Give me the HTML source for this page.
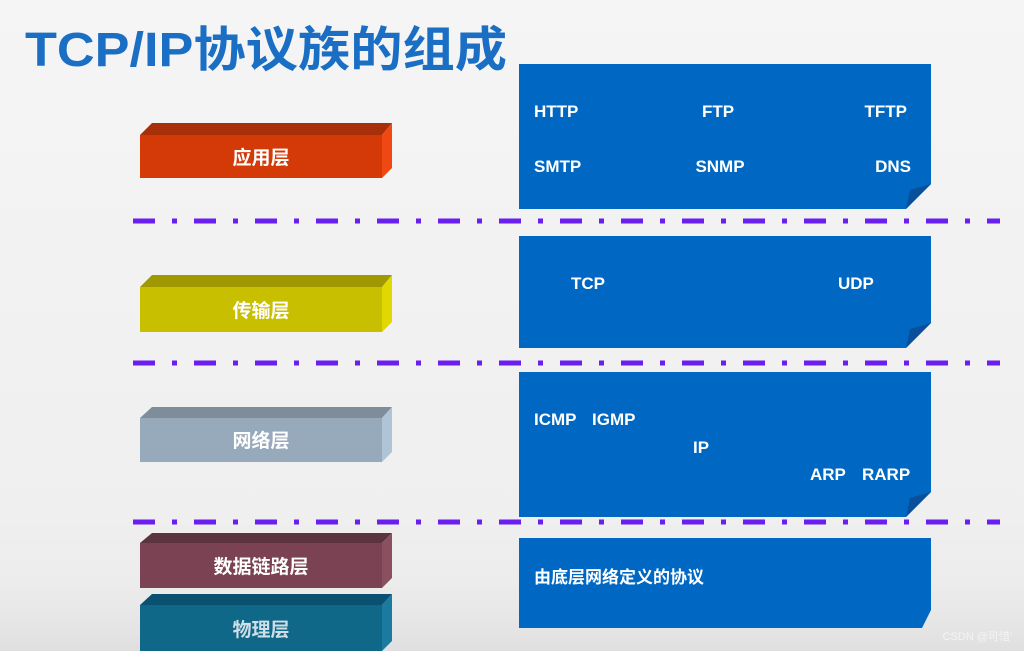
<!DOCTYPE html>
<html><head><meta charset="utf-8"><style>
html,body{margin:0;padding:0;}
body{width:1024px;height:651px;overflow:hidden;background:linear-gradient(#f5f5f5 0%,#efefef 80%,#e4e4e4 100%);}
svg{display:block;}
text{font-family:"Liberation Sans","Noto Sans CJK SC",sans-serif;font-weight:bold;}
</style></head><body>
<svg width="1024" height="651" viewBox="0 0 1024 651" xmlns="http://www.w3.org/2000/svg">
<defs>
<linearGradient id="bot" x1="0" y1="0" x2="0" y2="1"><stop offset="0" stop-color="#ffffff" stop-opacity="0"/><stop offset="1" stop-color="#dcdcdc" stop-opacity="0.6"/></linearGradient>
</defs>
<rect x="0" y="540" width="1024" height="111" fill="url(#bot)"/>
<text x="25" y="66" font-size="48" fill="#1a6fc4" textLength="482" lengthAdjust="spacingAndGlyphs">TCP/IP协议族的组成</text>

<!-- prisms -->
<g>
<polygon points="140,135 152,123 392,123 382,135" fill="#a83008"/>
<polygon points="382,135 392,123 392,168 382,178" fill="#f04812"/>
<rect x="140" y="135" width="242" height="43" fill="#d43a08"/>
<text x="261" y="164" font-size="19" fill="#fff" text-anchor="middle">应用层</text>

<polygon points="140,287 152,275 392,275 382,287" fill="#a09800"/>
<polygon points="382,287 392,275 392,322 382,332" fill="#e0d800"/>
<rect x="140" y="287" width="242" height="45" fill="#c8bf00"/>
<text x="261" y="317" font-size="19" fill="#fff" text-anchor="middle">传输层</text>

<polygon points="140,418 152,407 392,407 382,418" fill="#7f8c99"/>
<polygon points="382,418 392,407 392,452 382,462" fill="#b0c4d8"/>
<rect x="140" y="418" width="242" height="44" fill="#97aabb"/>
<text x="261" y="447" font-size="19" fill="#fff" text-anchor="middle">网络层</text>

<polygon points="140,543 152,533 392,533 382,543" fill="#5c3440"/>
<polygon points="382,543 392,533 392,578 382,588" fill="#8a5060"/>
<rect x="140" y="543" width="242" height="45" fill="#7a4252"/>
<text x="261" y="573" font-size="19" fill="#fff" text-anchor="middle">数据链路层</text>

<polygon points="140,605 152,594 392,594 382,605" fill="#0a5070"/>
<polygon points="382,605 392,594 392,641 382,651" fill="#1a7aa0"/>
<rect x="140" y="605" width="242" height="46" fill="#106888"/>
<text x="261" y="636" font-size="19" fill="#cfdfe8" text-anchor="middle">物理层</text>
</g>

<!-- dash-dot lines -->
<g stroke="#6a1ef0" stroke-width="5" stroke-dasharray="22,17,5,17">
<line x1="133" y1="221" x2="1000" y2="221"/>
<line x1="133" y1="363" x2="1000" y2="363"/>
<line x1="133" y1="522" x2="1000" y2="522"/>
</g>

<!-- blue boxes -->
<g fill="#0068c2">
<polygon points="519,64 931,64 931,184 906,209 519,209"/>
<polygon points="519,236 931,236 931,323 906,348 519,348"/>
<polygon points="519,372 931,372 931,492 906,517 519,517"/>
<polygon points="519,538 931,538 931,610 922,628 519,628"/>
</g>
<g fill="#0a4f99">
<polygon points="931,184 906,209 910,190"/>
<polygon points="931,323 906,348 910,329"/>
<polygon points="931,492 906,517 910,498"/>
</g>
<g font-size="17" fill="#fff">
<text x="534" y="117">HTTP</text>
<text x="718" y="117" text-anchor="middle">FTP</text>
<text x="907" y="117" text-anchor="end">TFTP</text>
<text x="534" y="172">SMTP</text>
<text x="720" y="172" text-anchor="middle">SNMP</text>
<text x="911" y="172" text-anchor="end">DNS</text>
<text x="571" y="289">TCP</text>
<text x="838" y="289">UDP</text>
<text x="534" y="425">ICMP</text>
<text x="592" y="425">IGMP</text>
<text x="693" y="453">IP</text>
<text x="810" y="480">ARP</text>
<text x="862" y="480">RARP</text>
<text x="534" y="583">由底层网络定义的协议</text>
</g>
<text x="1012" y="640" font-size="11" font-weight="normal" fill="#f4f4f4" text-anchor="end" style="font-weight:normal">CSDN @可惜'</text>
</svg>
</body></html>
